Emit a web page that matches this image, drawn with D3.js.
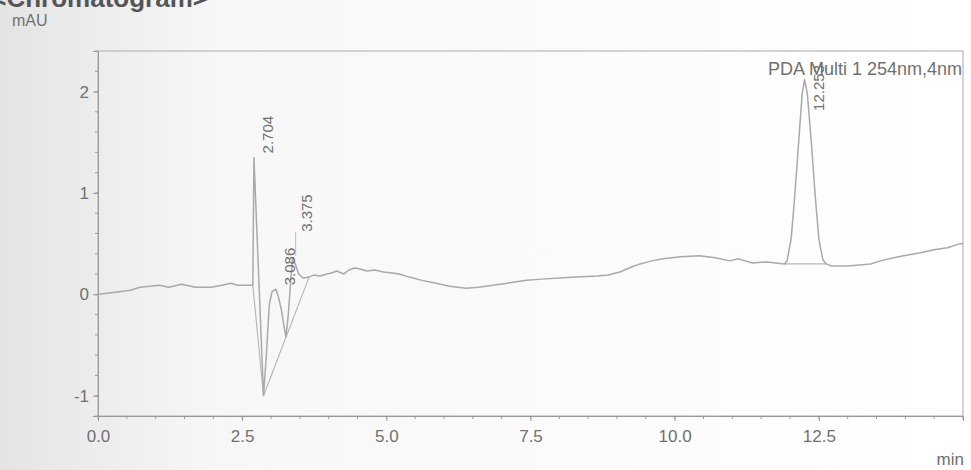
<!DOCTYPE html>
<html>
<head>
<meta charset="utf-8">
<script src="https://cdn.jsdelivr.net/npm/d3@7"></script>
<style>
  body { margin: 0; background: #fff; }
  svg { display: block; font-family: "Liberation Sans", Arial, sans-serif; }
</style>
</head>
<body>
<script>
// chromatogram trace (min, mAU)
var times = [0.00, 0.30, 0.56, 0.73, 0.90, 1.06, 1.23, 1.45, 1.69, 1.96, 2.15, 2.30, 2.42, 2.62, 2.685,
  2.704, 2.87, 2.92, 2.97, 3.02, 3.086, 3.13, 3.18, 3.22, 3.26, 3.30, 3.34, 3.375, 3.42, 3.48, 3.56, 3.66,
  3.74, 3.85, 3.97, 4.05, 4.14, 4.26, 4.35, 4.45, 4.55, 4.66, 4.80, 4.95, 5.10, 5.22, 5.40, 5.60, 5.86,
  6.10, 6.38, 6.60, 6.85, 7.10, 7.43, 7.70, 8.00, 8.30, 8.65, 8.85, 9.05, 9.25, 9.40, 9.60, 9.80, 10.10,
  10.43, 10.70, 10.96, 11.10, 11.35, 11.60, 11.90, 11.95, 12.02, 12.08, 12.15, 12.21, 12.253, 12.30,
  12.37, 12.44, 12.50, 12.57, 12.63, 12.72, 13.00, 13.20, 13.40, 13.57, 13.80, 13.97, 14.26, 14.50,
  14.73, 14.95, 15.00];
var signal = [0.00, 0.02, 0.04, 0.07, 0.08, 0.09, 0.07, 0.10, 0.07, 0.07, 0.09, 0.11, 0.09, 0.09, 0.09,
  1.35, -1.00, -0.60, -0.10, 0.03, 0.05, -0.03, -0.15, -0.30, -0.42, -0.20, 0.12, 0.36, 0.30, 0.20, 0.16, 0.17,
  0.19, 0.18, 0.20, 0.21, 0.23, 0.20, 0.24, 0.26, 0.25, 0.23, 0.24, 0.22, 0.21, 0.20, 0.17, 0.14, 0.11,
  0.08, 0.06, 0.07, 0.09, 0.11, 0.14, 0.15, 0.16, 0.17, 0.18, 0.19, 0.22, 0.27, 0.30, 0.33, 0.35, 0.37,
  0.38, 0.36, 0.33, 0.35, 0.31, 0.32, 0.30, 0.33, 0.55, 0.95, 1.50, 1.97, 2.12, 1.98,
  1.50, 0.95, 0.55, 0.34, 0.30, 0.28, 0.28, 0.29, 0.30, 0.33, 0.36, 0.38, 0.41, 0.44,
  0.46, 0.50, 0.50];

// detected peaks
var peakTimes = [2.704, 3.086, 3.375, 12.253];
var peakHeights = [1.35, 0.05, 0.36, 2.12];
var peakLabels = ["2.704", "3.086", "3.375", "12.253"];

// integration baselines: start time, start mAU, end time, end mAU
var baseStartT = [2.685, 2.87, 11.90];
var baseStartV = [0.09, -1.00, 0.30];
var baseEndT = [2.87, 3.66, 12.63];
var baseEndV = [-1.00, 0.17, 0.30];

var xTickValues = [0, 2.5, 5, 7.5, 10, 12.5];
var yTickValues = [-1, 0, 1, 2];

var width = 971, height = 470;
var plotLeft = 98, plotRight = 963, plotTop = 51, plotBottom = 416;

var svg = d3.select("body").append("svg")
  .attr("width", width)
  .attr("height", height);

// faint shading at left like the photo
var grad = svg.append("defs").append("linearGradient").attr("id", "shade");
grad.append("stop").attr("offset", "0%").attr("stop-color", "#e4e4e4");
grad.append("stop").attr("offset", "22%").attr("stop-color", "#f7f7f7");
grad.append("stop").attr("offset", "100%").attr("stop-color", "#ffffff");
svg.append("rect").attr("width", width).attr("height", height).attr("fill", "url(#shade)");

var x = d3.scaleLinear().domain([0, 15]).range([plotLeft, plotRight]);
var y = d3.scaleLinear().domain([-1.2, 2.4]).range([plotBottom, plotTop]);

var ink = "#707070";

// title (cut off at top edge)
svg.append("text")
  .attr("x", 208).attr("y", 7)
  .attr("text-anchor", "end")
  .attr("font-size", 26).attr("font-weight", "bold")
  .attr("fill", "#555")
  .text("<Chromatogram>");

svg.append("text")
  .attr("x", 12).attr("y", 26)
  .attr("font-size", 16).attr("fill", ink)
  .text("mAU");

// frame
svg.append("rect")
  .attr("x", plotLeft).attr("y", plotTop)
  .attr("width", plotRight - plotLeft).attr("height", plotBottom - plotTop)
  .attr("fill", "none").attr("stroke", "#b8b8b8").attr("stroke-width", 1.2);

// minor ticks
svg.append("g").selectAll("line")
  .data(d3.range(0, 15.01, 0.5))
  .enter().append("line")
  .attr("x1", d => x(d)).attr("x2", d => x(d))
  .attr("y1", plotBottom).attr("y2", plotBottom + 3)
  .attr("stroke", "#999");

svg.append("g").selectAll("line")
  .data(d3.range(-1.2, 2.41, 0.2))
  .enter().append("line")
  .attr("x1", plotLeft - 3).attr("x2", plotLeft)
  .attr("y1", d => y(d)).attr("y2", d => y(d))
  .attr("stroke", "#999");

// axes
var xAxis = svg.append("g")
  .attr("transform", `translate(0, ${plotBottom})`)
  .call(d3.axisBottom(x).tickValues(xTickValues).tickFormat(d3.format(".1f")).tickSize(5).tickPadding(9));

var yAxis = svg.append("g")
  .attr("transform", `translate(${plotLeft}, 0)`)
  .call(d3.axisLeft(y).tickValues(yTickValues).tickFormat(d => String(d)).tickSize(5).tickPadding(4));

[xAxis, yAxis].forEach(function(g) {
  g.select(".domain").attr("stroke", "#999");
  g.selectAll(".tick line").attr("stroke", "#999");
  g.selectAll(".tick text").attr("fill", ink).attr("font-size", 17)
    .attr("font-family", "'Liberation Sans', Arial, sans-serif");
});

svg.append("text")
  .attr("x", 964).attr("y", 465)
  .attr("text-anchor", "end")
  .attr("font-size", 17).attr("fill", ink)
  .text("min");

// integration baselines
svg.append("g").selectAll("line")
  .data(baseStartT)
  .enter().append("line")
  .attr("x1", d => x(d)).attr("y1", (d, i) => y(baseStartV[i]))
  .attr("x2", (d, i) => x(baseEndT[i])).attr("y2", (d, i) => y(baseEndV[i]))
  .attr("stroke", "#b4b4b4").attr("stroke-width", 1.1);

// trace
var trace = times.map((t, i) => [t, signal[i]]);
svg.append("path")
  .datum(trace)
  .attr("fill", "none")
  .attr("stroke", "#a9a9a9")
  .attr("stroke-width", 1.5)
  .attr("stroke-linejoin", "round")
  .attr("d", d3.line().x(d => x(d[0])).y(d => y(d[1])));

// detector label
svg.append("text")
  .attr("x", plotRight - 1).attr("y", 75)
  .attr("text-anchor", "end")
  .attr("font-size", 18).attr("fill", ink)
  .text("PDA Multi 1 254nm,4nm");

// peak labels, rotated, kept inside the frame
var lift = [4, 4, 26, 4];
peakTimes.forEach(function(t, i) {
  var px = x(t) + 19;
  var label = svg.append("text")
    .attr("font-size", 15).attr("fill", ink)
    .text(peakLabels[i]);
  var len = label.node().getComputedTextLength();
  var py = Math.max(y(peakHeights[i]) - lift[i], plotTop + 14 + len);
  label.attr("transform", `translate(${px}, ${py}) rotate(-90)`);
  if (lift[i] > 10) {
    svg.append("line")
      .attr("x1", x(t) + 3).attr("x2", x(t) + 3)
      .attr("y1", y(peakHeights[i]) - 2).attr("y2", py)
      .attr("stroke", "#c0c0c0");
  }
});
</script>
</body>
</html>
